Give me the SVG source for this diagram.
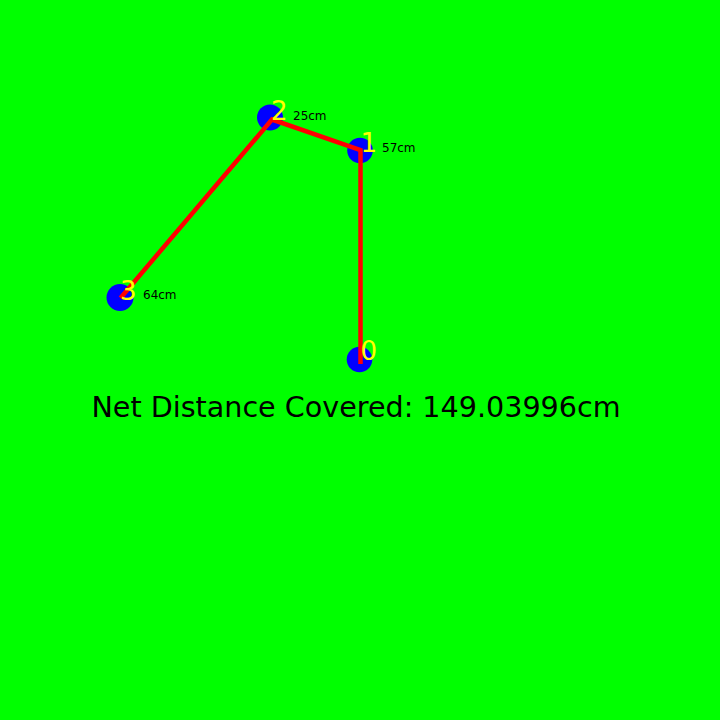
<svg xmlns="http://www.w3.org/2000/svg" width="720" height="720" viewBox="0 0 720 720">
<style>
.dot{fill:#0000ff}
.edge{stroke:#ff0000;stroke-width:4.5;fill:none;stroke-linecap:butt;stroke-linejoin:miter}
.num{fill:#ffff00;font-family:"DejaVu Sans",sans-serif;font-size:26px}
.dist{fill:#000;font-family:"DejaVu Sans",sans-serif;font-size:12px}
.title{fill:#000;font-family:"DejaVu Sans",sans-serif;font-size:28.6px}
</style>
<rect width="720" height="720" fill="#00ff00"/>
<g id="node0"><circle class="dot" cx="359.5" cy="359.5" r="12.8"/></g>
<g id="node1"><circle class="dot" cx="360" cy="150.5" r="12.8"/></g>
<g id="node2"><circle class="dot" cx="270" cy="117.5" r="13"/></g>
<g id="node3"><circle class="dot" cx="120" cy="297.5" r="13.5"/></g>
<g id="connectors">
<polyline class="edge" points="360.5,364 360.5,150 272,119.5 120.5,298"/>
</g>
<g id="labels">
<text class="num" x="360.5" y="360">0</text>
<text class="num" x="360.5" y="152">1</text>
<text class="num" x="271" y="120">2</text>
<text class="num" x="120" y="300">3</text>
<text class="dist" x="382" y="152">57cm</text>
<text class="dist" x="293" y="120">25cm</text>
<text class="dist" x="143" y="299">64cm</text>
</g>
<text class="title" x="356" y="417" text-anchor="middle">Net Distance Covered: 149.03996cm</text>
</svg>
